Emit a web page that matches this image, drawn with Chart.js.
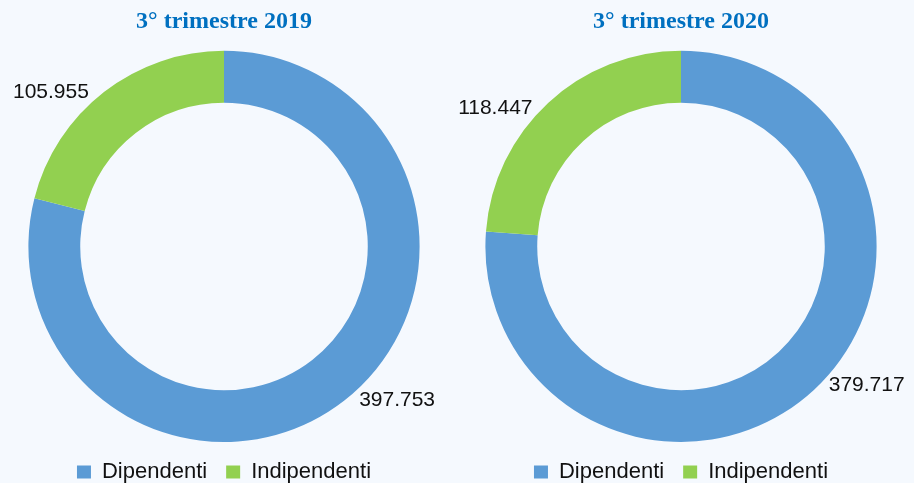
<!DOCTYPE html>
<html>
<head>
<meta charset="utf-8">
<script src="https://cdn.jsdelivr.net/npm/chart.js@4"></script>
<style>
  html, body { margin: 0; padding: 0; background: #f5f9fe; }
  body { width: 914px; height: 483px; overflow: hidden; position: relative; }
  .box { position: absolute; top: 0; width: 457px; height: 493px; }
</style>
</head>
<body>
<div class="box" style="left:0"><canvas id="chart2019"></canvas></div>
<div class="box" style="left:457px"><canvas id="chart2020"></canvas></div>
<script>
// Data
const categories = ['Dipendenti', 'Indipendenti'];
const values2019 = [397753, 105955];
const values2020 = [379717, 118447];
const title2019 = '3° trimestre 2019';
const title2020 = '3° trimestre 2020';

const sliceColors = ['#5b9bd5', '#92d050'];

// Italian style thousands separator: 397753 -> 397.753
function formatIt(v) {
    return String(v).replace(/\B(?=(\d{3})+(?!\d))/g, '.');
}

// Draws the value of each slice outside the ring
const outsideLabels = {
    id: 'outsideLabels',
    afterDatasetsDraw(chart, args, opts) {
        const ctx = chart.ctx;
        const meta = chart.getDatasetMeta(0);
        const values = chart.data.datasets[0].data;
        ctx.save();
        ctx.font = opts.font;
        ctx.fillStyle = opts.color;
        ctx.textAlign = 'center';
        ctx.textBaseline = 'middle';
        meta.data.forEach((arc, i) => {
            const p = arc.getProps(['x', 'y', 'startAngle', 'endAngle', 'outerRadius'], true);
            const a = (p.startAngle + p.endAngle) / 2 - opts.shift * Math.PI / 180;
            const r = p.outerRadius + opts.offset;
            ctx.fillText(formatIt(values[i]), p.x + r * Math.cos(a), p.y + r * Math.sin(a));
        });
        ctx.restore();
    }
};

function makeDoughnut(canvasId, titleText, values) {
    const ctx = document.getElementById(canvasId).getContext('2d');
    return new Chart(ctx, {
        type: 'doughnut',
        data: {
            labels: categories,
            datasets: [{
                data: values,
                backgroundColor: sliceColors,
                borderWidth: 0
            }]
        },
        options: {
            responsive: true,
            maintainAspectRatio: false,
            animation: false,
            events: [],
            cutout: '73.5%',
            layout: { padding: { left: 0, right: 9, top: 0, bottom: 0 } },
            plugins: {
                title: {
                    display: true,
                    text: titleText,
                    color: '#0070c0',
                    font: { family: '"Liberation Serif", "Times New Roman", serif', size: 24, weight: 'bold' },
                    padding: { top: 7, bottom: 15 }
                },
                legend: {
                    position: 'bottom',
                    labels: {
                        color: '#111',
                        font: { family: '"Liberation Sans", Arial, sans-serif', size: 22 },
                        boxWidth: 14,
                        boxHeight: 13,
                        padding: 19
                    }
                },
                tooltip: { enabled: false },
                outsideLabels: {
                    font: '21px "Liberation Sans", Arial, sans-serif',
                    color: '#111',
                    offset: 36,
                    shift: 10.5
                }
            }
        },
        plugins: [outsideLabels]
    });
}

makeDoughnut('chart2019', title2019, values2019);
makeDoughnut('chart2020', title2020, values2020);
</script>
</body>
</html>
